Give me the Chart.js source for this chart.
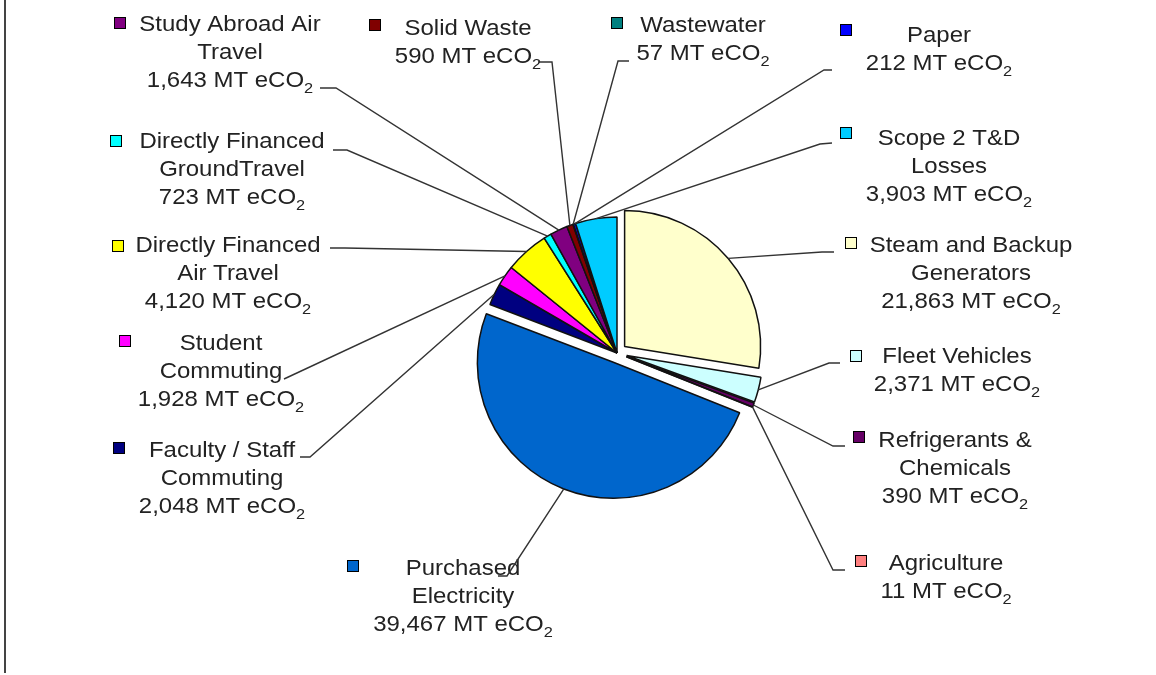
<!DOCTYPE html>
<html>
<head>
<meta charset="utf-8">
<script src="https://cdn.jsdelivr.net/npm/chart.js@4.4.1/dist/chart.umd.min.js"></script>
<style>
  html, body { margin: 0; padding: 0; background: #fff; }
  #wrap { position: relative; width: 1156px; height: 675px; }
</style>
</head>
<body>
<div id="wrap"><canvas id="pieChart"></canvas></div>
<script>
// categories (label lines), values in MT eCO2, slice colours
const categories = [
  ["Steam and Backup", "Generators"],
  ["Fleet Vehicles"],
  ["Refrigerants &", "Chemicals"],
  ["Agriculture"],
  ["Purchased", "Electricity"],
  ["Faculty / Staff", "Commuting"],
  ["Student", "Commuting"],
  ["Directly Financed", "Air Travel"],
  ["Directly Financed", "GroundTravel"],
  ["Study Abroad Air", "Travel"],
  ["Solid Waste"],
  ["Wastewater"],
  ["Paper"],
  ["Scope 2 T&D", "Losses"]
];
const emissions = [21863, 2371, 390, 11, 39467, 2048, 1928, 4120, 723, 1643, 590, 57, 212, 3903];
const unitText = "MT eCO";
const unitSub = "2";
const sliceColors = ["#FFFFCC", "#CCFFFF", "#660066", "#FF8080", "#0066CC", "#000080", "#FF00FF",
                     "#FFFF00", "#00FFFF", "#800080", "#800000", "#008080", "#0000FF", "#00CCFF"];

// how far each slice is pulled out of the pie (px)
const explode = [10, 10, 10, 10, 10, 0, 0, 0, 0, 0, 0, 0, 0, 0];

// where each label sits: text centre x, first baseline, legend square, leader elbow/end
const labelLayout = [
  { cx: 971, base: 252, sq: [845, 237], elbow: [822, 252], end: [834, 252] },
  { cx: 957, base: 363, sq: [850, 350], elbow: [829, 363], end: [840, 363] },
  { cx: 955, base: 447, sq: [853, 431], elbow: [833, 446], end: [845, 446] },
  { cx: 946, base: 570, sq: [855, 555], elbow: [833, 570], end: [845, 570] },
  { cx: 463, base: 575, sq: [347, 560], elbow: [507, 576], end: [498, 576] },
  { cx: 222, base: 457, sq: [113, 442], elbow: [310, 457], end: [300, 457] },
  { cx: 221, base: 350, sq: [119, 335], elbow: [284, 379], end: [284, 379] },
  { cx: 228, base: 252, sq: [112, 240], elbow: [345, 248], end: [330, 248] },
  { cx: 232, base: 148, sq: [110, 135], elbow: [347, 150], end: [333, 150] },
  { cx: 230, base: 31,  sq: [114, 17],  elbow: [336, 88],  end: [320, 88] },
  { cx: 468, base: 35,  sq: [369, 19],  elbow: [552, 62],  end: [538, 62] },
  { cx: 703, base: 32,  sq: [611, 17],  elbow: [618, 61],  end: [629, 61] },
  { cx: 939, base: 42,  sq: [840, 24],  elbow: [824, 70],  end: [832, 70] },
  { cx: 949, base: 145, sq: [840, 127], elbow: [820, 144], end: [832, 143] }
];

const FONT = '22px "Liberation Sans", Arial, sans-serif';
const SUB_FONT = '15px "Liberation Sans", Arial, sans-serif';
const LINE_H = 28;
const STRETCH = 1.09;

function drawCentered(ctx, cx, y, text, sub) {
  ctx.save();
  ctx.translate(cx, y);
  ctx.scale(STRETCH, 1);
  ctx.font = FONT;
  const w1 = ctx.measureText(text).width;
  let w2 = 0;
  if (sub) {
    ctx.font = SUB_FONT;
    w2 = ctx.measureText(sub).width;
  }
  const x0 = -(w1 + w2) / 2;
  ctx.font = FONT;
  ctx.fillText(text, x0, 0);
  if (sub) {
    ctx.font = SUB_FONT;
    ctx.fillText(sub, x0 + w1, 6);
  }
  ctx.restore();
}

const explodePlugin = {
  id: "explodeSlices",
  afterDatasetUpdate(chart, args) {
    const arcs = args.meta.data;
    arcs.forEach(function (el, i) {
      const d = explode[i] || 0;
      if (!d) return;
      const mid = (el.startAngle + el.endAngle) / 2;
      el.x += Math.cos(mid) * d;
      el.y += Math.sin(mid) * d;
    });
  }
};

const labelPlugin = {
  id: "sliceLabels",
  beforeDraw(chart) {
    const ctx = chart.ctx;
    ctx.save();
    ctx.fillStyle = "#444";
    ctx.fillRect(4, 0, 2, 673);
    ctx.restore();
  },
  afterDatasetsDraw(chart) {
    const ctx = chart.ctx;
    const arcs = chart.getDatasetMeta(0).data;
    ctx.save();
    ctx.textBaseline = "alphabetic";
    ctx.fillStyle = "#222";
    categories.forEach(function (lines, i) {
      const lay = labelLayout[i];
      lines.forEach(function (line, k) {
        drawCentered(ctx, lay.cx, lay.base + k * LINE_H, line, null);
      });
      const valueLine = emissions[i].toLocaleString("en-US") + " " + unitText;
      drawCentered(ctx, lay.cx, lay.base + lines.length * LINE_H, valueLine, unitSub);
      ctx.fillStyle = sliceColors[i];
      ctx.fillRect(lay.sq[0], lay.sq[1], 12, 12);
      ctx.strokeStyle = "#000";
      ctx.lineWidth = 1;
      ctx.strokeRect(lay.sq[0] + 0.5, lay.sq[1] + 0.5, 11, 11);
      ctx.fillStyle = "#222";
    });
    // leader lines from slice edge to labels
    ctx.strokeStyle = "#333";
    ctx.lineWidth = 1.4;
    arcs.forEach(function (el, i) {
      const lay = labelLayout[i];
      const mid = (el.startAngle + el.endAngle) / 2;
      const px = el.x + Math.cos(mid) * el.outerRadius;
      const py = el.y + Math.sin(mid) * el.outerRadius;
      ctx.beginPath();
      ctx.moveTo(px, py);
      ctx.lineTo(lay.elbow[0], lay.elbow[1]);
      ctx.lineTo(lay.end[0], lay.end[1]);
      ctx.stroke();
    });
    ctx.restore();
  }
};

const pieChart = new Chart("pieChart", {
  type: "pie",
  data: {
    labels: categories.map(function (c) { return c.join(" "); }),
    datasets: [
      {
        data: emissions,
        backgroundColor: sliceColors,
        borderColor: "#111",
        borderWidth: 1.5
      }
    ]
  },
  options: {
    responsive: true,
    maintainAspectRatio: false,
    devicePixelRatio: 1,
    animation: false,
    events: [],
    radius: 136,
    layout: {
      padding: { left: 78, top: 31, right: 0, bottom: 0 }
    },
    plugins: {
      legend: { display: false },
      tooltip: { enabled: false }
    }
  },
  plugins: [explodePlugin, labelPlugin]
});
</script>
</body>
</html>
